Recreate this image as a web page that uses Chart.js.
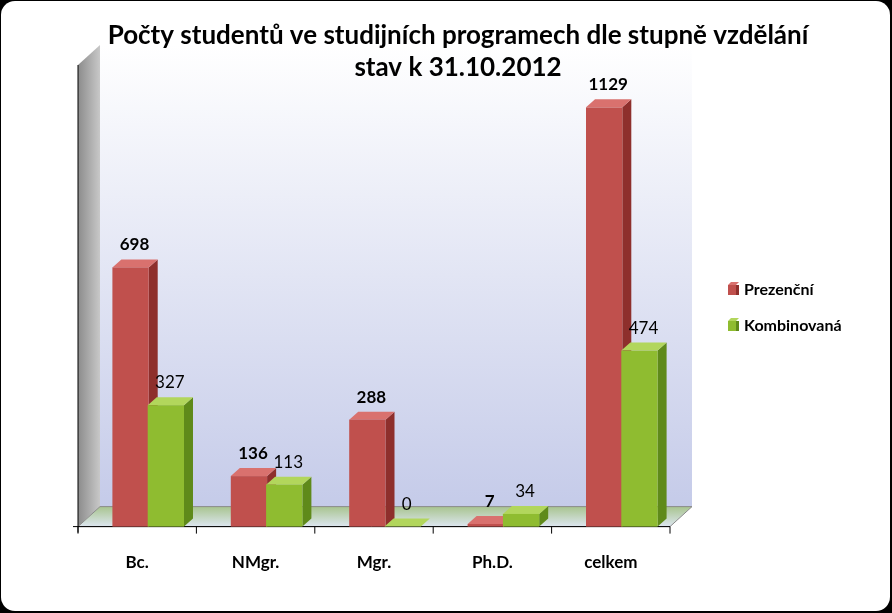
<!DOCTYPE html>
<html><head><meta charset="utf-8">
<script src="https://cdn.jsdelivr.net/npm/chart.js@4/dist/chart.umd.min.js"></script>
<style>body{margin:0;background:#000}canvas{display:block}</style>
</head><body>
<canvas id="c" width="892" height="613"></canvas>
<script>
const categories = ['Bc.', 'NMgr.', 'Mgr.', 'Ph.D.', 'celkem'];
const prezencni = [698, 136, 288, 7, 1129];
const kombinovana = [327, 113, 0, 34, 474];
const titleLines = ['Počty studentů ve studijních programech dle stupně vzdělání', 'stav k 31.10.2012'];

const DX = 9, DY = 8, SHIFT = 12;
const FONT = 'Lato, "Open Sans", sans-serif';

// frame, walls, floor
const backdrop = {
  id: 'backdrop',
  beforeDraw(chart) {
    const ctx = chart.ctx, a = chart.chartArea;
    ctx.save();
    ctx.fillStyle = '#000';
    ctx.fillRect(0, 0, chart.width, chart.height);
    ctx.fillStyle = '#fff';
    ctx.beginPath();
    ctx.roundRect(1, 1, chart.width - 3, chart.height - 3, 14);
    ctx.fill();
    const L = a.left, R = a.right, B = a.bottom, T = a.top - 16;
    const wx = 22, wy = 20;
    // back wall
    let g = ctx.createLinearGradient(0, T - wy, 0, B - wy);
    g.addColorStop(0, '#ffffff');
    g.addColorStop(1, '#c5cbe9');
    ctx.fillStyle = g;
    ctx.fillRect(L + wx, T - wy, R - L, B - T);
    // left wall
    g = ctx.createLinearGradient(L, 0, L + wx, 0);
    g.addColorStop(0, '#8c8c8c');
    g.addColorStop(1, '#c8c8c8');
    ctx.fillStyle = g;
    ctx.beginPath();
    ctx.moveTo(L, T); ctx.lineTo(L + wx, T - wy); ctx.lineTo(L + wx, B - wy); ctx.lineTo(L, B);
    ctx.closePath(); ctx.fill();
    // floor
    g = ctx.createLinearGradient(0, B - wy, 0, B);
    g.addColorStop(0, '#a8c48f');
    g.addColorStop(1, '#dde6f0');
    ctx.fillStyle = g;
    ctx.beginPath();
    ctx.moveTo(L, B); ctx.lineTo(L + wx, B - wy); ctx.lineTo(R + wx, B - wy); ctx.lineTo(R, B);
    ctx.closePath(); ctx.fill();
    ctx.strokeStyle = '#8a8a8a';
    ctx.stroke();
    // axes
    ctx.strokeStyle = '#000';
    ctx.lineWidth = 1;
    ctx.beginPath();
    ctx.moveTo(L, T); ctx.lineTo(L, B + 6);
    ctx.moveTo(L - 5, B); ctx.lineTo(R, B);
    const step = (R - L) / categories.length;
    for (let i = 0; i <= categories.length; i++) {
      ctx.moveTo(L + i * step, B); ctx.lineTo(L + i * step, B + 7);
    }
    ctx.stroke();
    // title
    ctx.fillStyle = '#000';
    ctx.font = 'bold 26px ' + FONT;
    ctx.textAlign = 'center';
    ctx.textBaseline = 'middle';
    ctx.fillText(titleLines[0], 458, 36);
    ctx.fillText(titleLines[1], 458, 68);
    ctx.restore();
  }
};

const colors = [
  { front: '#c0504d', side: '#8e2f2c', top: '#d9716e' },
  { front: '#8fbc30', side: '#5f8a1a', top: '#b2d65c' }
];

// 3D bars, labels, legend
const bars3d = {
  id: 'bars3d',
  afterDatasetsDraw(chart) {
    const ctx = chart.ctx;
    ctx.save();
    chart.data.datasets.forEach((ds, di) => {
      const c = colors[di];
      chart.getDatasetMeta(di).data.forEach((bar, i) => {
        const x = bar.x + SHIFT - di * 2;
        const w = bar.width - 1;
        const l = x - w / 2, r = x + w / 2;
        const t = bar.y, b = bar.base;
        ctx.fillStyle = c.side;
        ctx.beginPath();
        ctx.moveTo(r, t); ctx.lineTo(r + DX, t - DY); ctx.lineTo(r + DX, b - DY); ctx.lineTo(r, b);
        ctx.closePath(); ctx.fill();
        ctx.fillStyle = c.top;
        ctx.beginPath();
        ctx.moveTo(l, t); ctx.lineTo(l + DX, t - DY); ctx.lineTo(r + DX, t - DY); ctx.lineTo(r, t);
        ctx.closePath(); ctx.fill();
        ctx.fillStyle = c.front;
        ctx.fillRect(l, t, r - l, b - t);
        ctx.fillStyle = '#000';
        ctx.font = (di === 0 ? 'bold ' : '') + '17px ' + FONT;
        ctx.textAlign = 'center';
        ctx.textBaseline = 'bottom';
        ctx.fillText(ds.data[i], x + 4, t - DY - 6);
      });
    });
    // legend
    ['Prezenční', 'Kombinovaná'].forEach((name, k) => {
      const y = 290 + k * 36, x = 728, c = colors[k];
      ctx.fillStyle = c.front; ctx.fillRect(x, y - 5, 8, 10);
      ctx.fillStyle = c.top;
      ctx.beginPath(); ctx.moveTo(x, y - 5); ctx.lineTo(x + 3, y - 8); ctx.lineTo(x + 11, y - 8); ctx.lineTo(x + 8, y - 5); ctx.fill();
      ctx.fillStyle = c.side; ctx.fillRect(x + 8, y - 5, 3, 10);
      ctx.fillStyle = '#000';
      ctx.font = 'bold 16px ' + FONT;
      ctx.textAlign = 'left'; ctx.textBaseline = 'middle';
      ctx.fillText(name, x + 16, y);
    });
    ctx.restore();
  }
};

new Chart(document.getElementById('c'), {
  type: 'bar',
  data: {
    labels: categories,
    datasets: [
      { label: 'Prezenční', data: prezencni, backgroundColor: 'rgba(0,0,0,0)' },
      { label: 'Kombinovaná', data: kombinovana, backgroundColor: 'rgba(0,0,0,0)' }
    ]
  },
  options: {
    responsive: false,
    animation: false,
    layout: { padding: { top: 81, left: 78, right: 222, bottom: 22 } },
    plugins: { legend: { display: false }, tooltip: { enabled: false } },
    datasets: { bar: { categoryPercentage: 0.63, barPercentage: 1 } },
    scales: {
      x: {
        grid: { display: false },
        border: { display: false },
        ticks: { color: '#000', font: { family: FONT, size: 17, weight: 'bold' }, padding: 18 }
      },
      y: { display: false, min: 0, max: 1200 }
    }
  },
  plugins: [backdrop, bars3d]
});
</script>
</body></html>
